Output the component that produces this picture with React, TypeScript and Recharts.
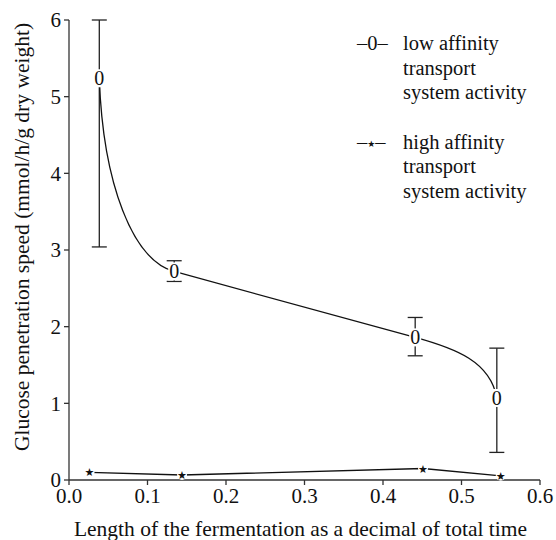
import React from 'react';
import { LineChart, Line, XAxis, YAxis, ErrorBar, Legend } from 'recharts';

// low affinity series (time fraction, speed, error minus / plus)
const lowX = [0.0386, 0.134, 0.441, 0.545];
const lowY = [5.24, 2.72, 1.86, 1.07];
const lowErrMinus = [2.2, 0.13, 0.24, 0.71];
const lowErrPlus = [0.76, 0.14, 0.26, 0.65];

// high affinity series
const highX = [0.026, 0.144, 0.451, 0.55];
const highY = [0.1, 0.065, 0.15, 0.055];

const xTicks = [0, 0.1, 0.2, 0.3, 0.4, 0.5, 0.6];
const yTicks = [0, 1, 2, 3, 4, 5, 6];

const lowData = lowX.map((x, i) => ({ x, y: lowY[i], err: [lowErrMinus[i], lowErrPlus[i]] }));
const highData = highX.map((x, i) => ({ x, y: highY[i] }));

const FONT = '"Liberation Serif", "DejaVu Serif", serif';

// curve: steep drop after the first point, straight middle, bend into the last point
const lowCurve = (context: any) => {
  let pts: number[][] = [];
  return {
    areaStart() {},
    areaEnd() {},
    lineStart() {
      pts = [];
    },
    point(x: number, y: number) {
      pts.push([+x, +y]);
    },
    lineEnd() {
      if (pts.length < 2) return;
      context.moveTo(pts[0][0], pts[0][1]);
      const mid = pts.length > 2 ? (pts[2][1] - pts[1][1]) / (pts[2][0] - pts[1][0]) : 0;
      for (let i = 1; i < pts.length; i++) {
        const a = pts[i - 1];
        const b = pts[i];
        const dx = b[0] - a[0];
        const dy = b[1] - a[1];
        if (i === 1) {
          const k = 0.55 * dx;
          context.bezierCurveTo(a[0] + 0.05 * dx, a[1] + 0.55 * dy, b[0] - k, b[1] - mid * k, b[0], b[1]);
        } else if (i === pts.length - 1) {
          const k = 0.5 * dx;
          context.bezierCurveTo(a[0] + k, a[1] + mid * k, b[0] - 0.08 * dx, b[1] - 0.6 * dy, b[0], b[1]);
        } else {
          context.lineTo(b[0], b[1]);
        }
      }
    },
  };
};

const ZeroDot = (props: any) => {
  const { cx, cy } = props;
  if (cx == null || cy == null) return null;
  return (
    <g>
      <rect x={cx - 6} y={cy - 9} width={12} height={18} fill="#fff" />
      <text x={cx} y={cy + 7} textAnchor="middle" fontSize={20} fontFamily={FONT} fill="#111">
        0
      </text>
    </g>
  );
};

const StarDot = (props: any) => {
  const { cx, cy } = props;
  if (cx == null || cy == null) return null;
  return (
    <g>
      <circle cx={cx} cy={cy} r={5} fill="#fff" />
      <text x={cx} y={cy + 4} textAnchor="middle" fontSize={11} fontFamily="DejaVu Sans" fill="#111">
        ★
      </text>
    </g>
  );
};

const LegendBox = () => {
  const row: React.CSSProperties = { height: 24.5, lineHeight: '24.5px', whiteSpace: 'nowrap' };
  return (
    <div style={{ fontFamily: FONT, fontSize: 20.5, color: '#111' }}>
      <div style={row}>
        <span style={{ display: 'inline-block', width: 46 }}>–0–</span>low affinity
      </div>
      <div style={{ ...row, paddingLeft: 46 }}>transport</div>
      <div style={{ ...row, paddingLeft: 46 }}>system activity</div>
      <div style={{ height: 25 }} />
      <div style={row}>
        <span style={{ display: 'inline-block', width: 46 }}>
          –<span style={{ fontSize: 9, fontFamily: 'DejaVu Sans', verticalAlign: 'middle' }}>★</span>–
        </span>
        high affinity
      </div>
      <div style={{ ...row, paddingLeft: 46 }}>transport</div>
      <div style={{ ...row, paddingLeft: 46 }}>system activity</div>
    </div>
  );
};

const App: React.FC = () => {
  const tickStyle = { fontSize: 21, fontFamily: FONT, fill: '#111' };
  return (
    <div style={{ position: 'absolute', left: 0, top: 0, width: 556, height: 540, background: '#fff' }}>
      <LineChart width={556} height={540} margin={{ top: 20, right: 16, bottom: 0, left: 0 }}>
        <XAxis
          dataKey="x"
          type="number"
          domain={[0, 0.6]}
          ticks={xTicks}
          tickFormatter={(v: number) => v.toFixed(1)}
          tick={tickStyle}
          tickSize={5}
          tickMargin={3}
          stroke="#333"
          strokeWidth={1.3}
          height={60}
          allowDuplicatedCategory={false}
          label={{ value: 'Length of the fermentation as a decimal of total time', position: 'insideBottom', offset: 4, dx: -4, style: { fontSize: 21.5, fontFamily: FONT, fill: '#111' } }}
        />
        <XAxis xAxisId="top" dataKey="x" type="number" domain={[0, 0.6]} orientation="top" height={0} tick={false} tickLine={false} stroke="#555" strokeWidth={1.3} />
        <YAxis
          type="number"
          domain={[0, 6]}
          ticks={yTicks}
          tick={tickStyle}
          tickSize={5}
          tickMargin={3}
          stroke="#333"
          strokeWidth={1.3}
          width={69}
          label={{ value: 'Glucose  penetration speed (mmol/h/g dry weight)', angle: -90, position: 'insideLeft', offset: 21, dy: -13, style: { fontSize: 21.5, fontFamily: FONT, fill: '#111', textAnchor: 'middle', whiteSpace: 'pre' } }}
        />
        <YAxis yAxisId="right" type="number" domain={[0, 6]} orientation="right" width={0} tick={false} tickLine={false} stroke="#555" strokeWidth={1.3} />
        <Legend
          layout="horizontal"
          verticalAlign="middle"
          align="center"
          content={<LegendBox />}
          wrapperStyle={{ position: 'absolute', top: 31, left: 357, width: 190 }}
        />
        <Line
          data={lowData}
          dataKey="y"
          type={lowCurve as any}
          stroke="#111"
          strokeWidth={1.3}
          dot={<ZeroDot />}
          activeDot={false}
          isAnimationActive={false}
          legendType="none"
        >
          <ErrorBar dataKey="err" direction="y" width={7.5} stroke="#222" strokeWidth={1.3} />
        </Line>
        <Line
          data={highData}
          dataKey="y"
          type="linear"
          stroke="#111"
          strokeWidth={1.3}
          dot={<StarDot />}
          activeDot={false}
          isAnimationActive={false}
          legendType="none"
        />
      </LineChart>
    </div>
  );
};

export default App;
